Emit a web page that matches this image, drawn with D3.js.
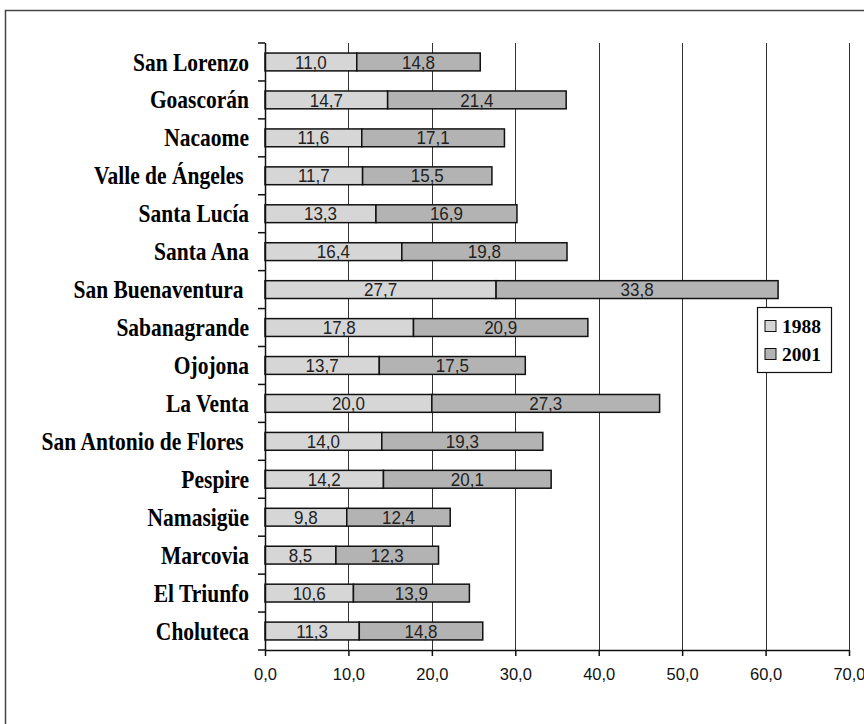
<!DOCTYPE html>
<html>
<head>
<meta charset="utf-8">
<script src="https://cdn.jsdelivr.net/npm/d3@7"></script>
<style>
  html, body { margin: 0; padding: 0; background: #fff; }
  svg text { white-space: pre; }
</style>
</head>
<body>
<svg id="chart" width="864" height="724"></svg>
<script>
// Municipalities, top to bottom
const categories = [
  "San Lorenzo", "Goascorán", "Nacaome", "Valle de Ángeles ", "Santa Lucía",
  "Santa Ana", "San Buenaventura ", "Sabanagrande", "Ojojona", "La Venta",
  "San Antonio de Flores ", "Pespire", "Namasigüe", "Marcovia", "El Triunfo", "Choluteca"
];
const values1988 = [11.0, 14.7, 11.6, 11.7, 13.3, 16.4, 27.7, 17.8, 13.7, 20.0, 14.0, 14.2, 9.8, 8.5, 10.6, 11.3];
const values2001 = [14.8, 21.4, 17.1, 15.5, 16.9, 19.8, 33.8, 20.9, 17.5, 27.3, 19.3, 20.1, 12.4, 12.3, 13.9, 14.8];
const seriesNames = ["1988", "2001"];
const seriesColors = ["#d6d6d6", "#b3b3b3"];
const xTicks = [0, 10, 20, 30, 40, 50, 60, 70];

const serif = "'Liberation Serif', 'Times New Roman', serif";
const sans = "'Liberation Sans', Arial, sans-serif";

const svg = d3.select("#chart");
const plot = { left: 265, right: 849, top: 43, bottom: 650 };

// outer frame
svg.append("rect")
  .attr("x", 5.5).attr("y", 10.5).attr("width", 880).attr("height", 740)
  .attr("fill", "none").attr("stroke", "#444").attr("stroke-width", 1.5);

const x = d3.scaleLinear().domain([0, 70]).range([plot.left, plot.right]);
const y = d3.scaleBand().domain(categories).range([plot.top, plot.bottom]).paddingInner(0.53).paddingOuter(0.265);

// vertical gridlines
svg.append("g").selectAll("line").data(xTicks.slice(1)).join("line")
  .attr("x1", d => Math.round(x(d)) + 0.5).attr("x2", d => Math.round(x(d)) + 0.5)
  .attr("y1", plot.top).attr("y2", plot.bottom)
  .attr("stroke", "#333").attr("stroke-width", 1);

// stacked segments
const rows = categories.map((c, i) => ({ cat: c, v: [values1988[i], values2001[i]] }));
const segs = [];
rows.forEach(r => {
  let start = 0;
  r.v.forEach((v, k) => {
    segs.push({ cat: r.cat, k, x0: start, x1: start + v, v });
    start += v;
  });
});

const bars = svg.append("g");
bars.selectAll("rect").data(segs).join("rect")
  .attr("x", d => x(d.x0))
  .attr("y", d => y(d.cat))
  .attr("width", d => x(d.x1) - x(d.x0))
  .attr("height", y.bandwidth())
  .attr("fill", d => seriesColors[d.k])
  .attr("stroke", "#111").attr("stroke-width", 1.5);

// value labels, slightly tall type
const fmt = v => v.toFixed(1).replace(".", ",");
bars.selectAll("text").data(segs).join("text")
  .attr("transform", d => `translate(${(x(d.x0) + x(d.x1)) / 2},${y(d.cat) + y.bandwidth() / 2}) scale(1,1.08)`)
  .attr("dy", "0.36em")
  .attr("text-anchor", "middle")
  .attr("font-family", sans)
  .attr("font-size", 17)
  .attr("fill", "#222")
  .text(d => fmt(d.v));

// y axis
const yAxis = svg.append("g");
yAxis.append("line")
  .attr("x1", plot.left + 0.5).attr("x2", plot.left + 0.5)
  .attr("y1", plot.top).attr("y2", plot.bottom)
  .attr("stroke", "#111").attr("stroke-width", 1.5);
const boundaries = d3.range(categories.length + 1).map(i => plot.top + i * (plot.bottom - plot.top) / categories.length);
yAxis.selectAll("line.tk").data(boundaries).join("line").attr("class", "tk")
  .attr("x1", plot.left - 7).attr("x2", plot.left)
  .attr("y1", d => d).attr("y2", d => d)
  .attr("stroke", "#111").attr("stroke-width", 1.5);
yAxis.selectAll("text").data(categories).join("text")
  .attr("transform", d => `translate(249,${y(d) + y.bandwidth() / 2}) scale(1,1.14)`)
  .attr("dy", "0.35em")
  .attr("text-anchor", "end")
  .attr("font-family", serif)
  .attr("font-weight", "bold")
  .attr("font-size", 21.5)
  .attr("fill", "#000")
  .text(d => d);

// x axis
const xAxis = svg.append("g").attr("transform", `translate(0,${plot.bottom})`)
  .call(d3.axisBottom(x).tickValues(xTicks).tickSize(6).tickSizeOuter(0).tickFormat(fmt));
xAxis.select(".domain").attr("stroke", "#111").attr("stroke-width", 1.5);
xAxis.selectAll(".tick line").attr("stroke", "#111").attr("stroke-width", 1.5);
xAxis.selectAll(".tick text")
  .attr("y", 18)
  .attr("font-family", sans)
  .attr("font-size", 16.5)
  .attr("fill", "#111");

// legend
const lg = svg.append("g").attr("transform", "translate(757,307)");
lg.append("rect").attr("x", 0.5).attr("y", 0.5).attr("width", 74).attr("height", 65)
  .attr("fill", "#fff").attr("stroke", "#111").attr("stroke-width", 1.2);
seriesNames.forEach((s, i) => {
  const cy = 19 + i * 28;
  lg.append("rect").attr("x", 8).attr("y", cy - 5.5).attr("width", 11).attr("height", 11)
    .attr("fill", seriesColors[i]).attr("stroke", "#111").attr("stroke-width", 1);
  lg.append("text").attr("x", 25).attr("y", cy).attr("dy", "0.36em")
    .attr("font-family", serif)
    .attr("font-weight", "bold").attr("font-size", 19.5).attr("fill", "#000")
    .text(s);
});
</script>
</body>
</html>
